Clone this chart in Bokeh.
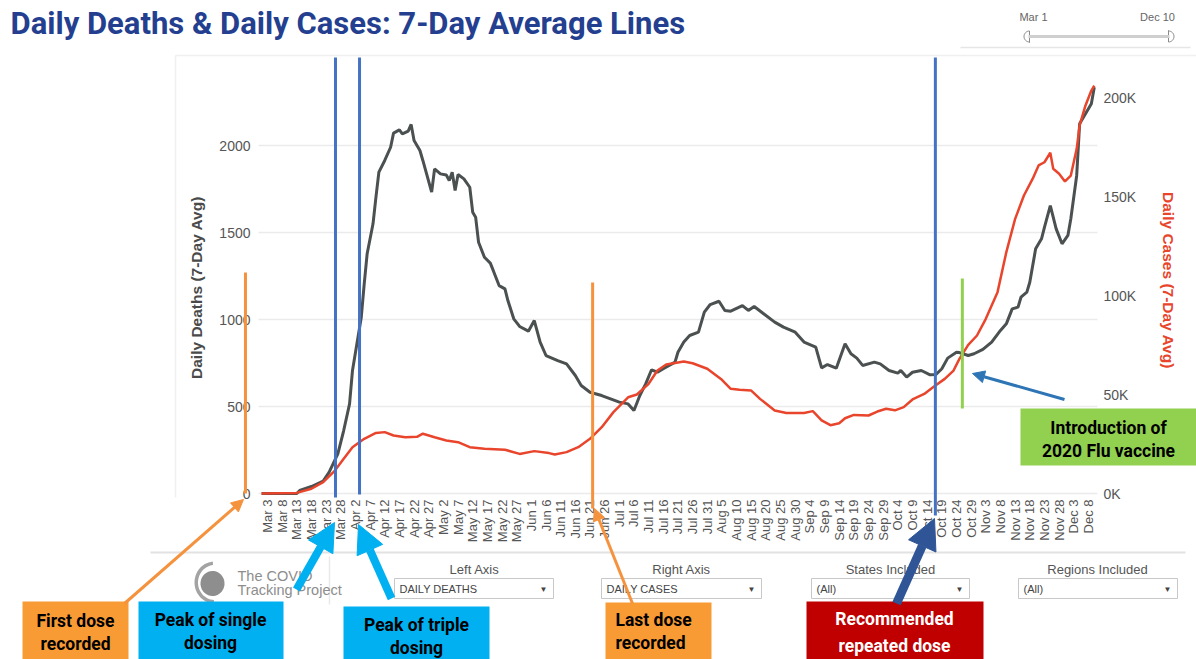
import numpy as np
from bokeh.plotting import figure
from bokeh.models import Range1d, Label, Arrow, NormalHead, BoxAnnotation
from bokeh.core.properties import value
from bokeh.embed import file_html
from bokeh.resources import INLINE

# ---------------- data (day 0 = Mar 1, 2020) ----------------
death_days = [0, 12, 13, 17, 21, 23, 26, 28, 30, 31, 34, 35, 36, 38, 39, 40, 42, 44, 45, 47, 48, 50,
              51, 52, 54, 55, 58, 59, 61, 63, 64, 65, 66, 67, 69, 71, 72, 73, 74, 76, 78, 79, 81, 83,
              84, 86, 88, 91, 93, 95, 97, 101, 104, 107, 109, 112, 116, 119, 122, 125, 127, 129, 131,
              133, 135, 137, 141, 142, 144, 146, 149, 151, 153, 156, 158, 160, 164, 166, 168, 171, 175,
              178, 182, 185, 189, 191, 193, 196, 199, 201, 203, 205, 209, 211, 214, 217, 218, 220, 222,
              225, 228, 230, 232, 234, 237, 238, 241, 243, 246, 249, 252, 254, 256, 258, 259, 261, 262,
              264, 266, 267, 269, 271, 273, 275, 276, 278, 279, 281, 283, 284]
deaths = [0, 0, 17, 40, 71, 122, 228, 362, 515, 707, 1013, 1205, 1378, 1550, 1703, 1847, 1914, 1990,
          2071, 2090, 2067, 2083, 2121, 2029, 1971, 1914, 1732, 1866, 1837, 1830, 1799, 1847, 1741,
          1833, 1808, 1760, 1617, 1588, 1444, 1358, 1324, 1282, 1195, 1176, 1109, 1004, 960, 933, 994,
          870, 793, 764, 745, 678, 621, 582, 563, 544, 525, 515, 477, 563, 630, 711, 697, 717, 755, 812,
          870, 908, 927, 1042, 1086, 1105, 1052, 1048, 1080, 1052, 1075, 1036, 985, 956, 927, 870, 841,
          722, 741, 720, 860, 803, 778, 736, 755, 745, 707, 692, 707, 669, 697, 707, 682, 684, 717, 778,
          812, 810, 793, 803, 828, 870, 937, 975, 1061, 1071, 1128, 1157, 1214, 1406, 1464, 1530, 1655,
          1521, 1435, 1483, 1579, 1828, 2125, 2182, 2240, 2335]

case_days = [0, 12, 17, 21, 25, 28, 31, 35, 39, 42, 45, 49, 53, 55, 59, 63, 67, 71, 76, 83, 88, 93, 98,
             100, 104, 108, 112, 116, 120, 125, 128, 132, 135, 138, 144, 147, 152, 157, 160, 163, 167,
             170, 175, 179, 185, 188, 191, 194, 197, 199, 202, 207, 210, 213, 216, 219, 222, 226, 229,
             233, 236, 238, 241, 244, 247, 251, 254, 257, 260, 263, 265, 267, 269, 270, 272, 274, 276,
             278, 279, 281, 283, 284]
cases_k = [0, 0.3, 2.4, 5.7, 11.6, 17.5, 23.4, 27.6, 30.6, 31.0, 29.3, 28.4, 28.6, 30.2, 28.4, 26.8,
           25.9, 23.4, 22.6, 22.1, 20.0, 21.4, 20.4, 19.7, 20.9, 23.4, 27.6, 33.5, 41.1, 48.6, 50.0,
           55.4, 62.1, 65.2, 66.7, 65.8, 63.0, 57.4, 52.9, 52.4, 52.0, 47.8, 41.9, 40.7, 40.7, 41.6,
           36.9, 34.5, 35.5, 38.0, 39.7, 39.4, 41.4, 42.8, 42.0, 43.6, 47.5, 50.3, 53.7, 57.9, 62.1,
           68.0, 75.1, 79.8, 88.2, 101.7, 121.9, 138.7, 150.5, 159.0, 165.7, 167.3, 172.1, 164.0,
           161.5, 157.6, 160.6, 174.1, 185.9, 196.0, 203.5, 206.0]

tick_days = list(range(2, 283, 5))
tick_labels = ["Mar 3", "Mar 8", "Mar 13", "Mar 18", "Mar 23", "Mar 28",
               "Apr 2", "Apr 7", "Apr 12", "Apr 17", "Apr 22", "Apr 27",
               "May 2", "May 7", "May 12", "May 17", "May 22", "May 27",
               "Jun 1", "Jun 6", "Jun 11", "Jun 16", "Jun 21", "Jun 26",
               "Jul 1", "Jul 6", "Jul 11", "Jul 16", "Jul 21", "Jul 26", "Jul 31",
               "Aug 5", "Aug 10", "Aug 15", "Aug 20", "Aug 25", "Aug 30",
               "Sep 4", "Sep 9", "Sep 14", "Sep 19", "Sep 24", "Sep 29",
               "Oct 4", "Oct 9", "Oct 14", "Oct 19", "Oct 24", "Oct 29",
               "Nov 3", "Nov 8", "Nov 13", "Nov 18", "Nov 23", "Nov 28",
               "Dec 3", "Dec 8"]
death_ticks = [0, 500, 1000, 1500, 2000]
case_ticks = [0, 50, 100, 150, 200]
case_tick_labels = ["0K", "50K", "100K", "150K", "200K"]

# event marker days (vertical annotation lines)
event_days = [-5.5, 25.2, 33.4, 112.9, 229.8, 239.0]

# ---------------- figure ----------------
W, H = 1196, 659
FONT = "Liberation Sans"
BOLDF = "Roboto"
# plot area: day -1.06..285.1 over x 258..1097, deaths 0 at y 493 (0.174 px/death),
# cases 0 at y 493 (1.98 px per thousand); the frame covers the full canvas
PX_DAY, X0 = 2.932, 261.1
p = figure(width=W, height=H, output_backend="svg", toolbar_location=None,
           x_axis_location=None, y_axis_location=None,
           x_range=Range1d(-X0 / PX_DAY, (W - X0) / PX_DAY),
           y_range=Range1d((493 - H) / 0.174, 493 / 0.174),
           min_border=0, outline_line_color=None,
           background_fill_color="white", border_fill_color="white")
p.xgrid.visible = False
p.ygrid.visible = False
p.extra_x_ranges = {"ix": Range1d(0, W)}
p.extra_y_ranges = {"iy": Range1d(H, 0), "cases": Range1d((493 - H) / 1.98, 493 / 1.98)}

LEFT_D, RIGHT_D = (258 - X0) / PX_DAY, (1097 - X0) / PX_DAY

# gridlines (left-axis ticks)
p.segment(x0=[LEFT_D] * len(death_ticks), x1=[RIGHT_D] * len(death_ticks),
          y0=death_ticks, y1=death_ticks, line_color="#ebebeb", line_width=1.6)

# x tick labels (vertical)
p.text(x=tick_days, y=[499] * len(tick_days), text=tick_labels, y_range_name="iy",
       angle=np.pi / 2, text_align="right", text_baseline="middle",
       text_font=value(FONT), text_font_size="13px", text_color="#555555")
# left tick labels
p.text(x=[250] * len(death_ticks), y=death_ticks, text=[str(t) for t in death_ticks],
       x_range_name="ix", text_align="right", text_baseline="middle",
       text_font=value(FONT), text_font_size="14px", text_color="#555555")
# right tick labels
p.text(x=[1103] * len(case_ticks), y=case_ticks, text=case_tick_labels,
       x_range_name="ix", y_range_name="cases", text_align="left", text_baseline="middle",
       text_font=value(FONT), text_font_size="14px", text_color="#555555")

# data lines
p.line(death_days, deaths, line_color="#4b5050", line_width=3)
p.line(case_days, cases_k, line_color="#e8452c", line_width=2.5, y_range_name="cases")

# ---------------- decoration helpers (image pixel coordinates) ----------------
def seg(x0, y0, x1, y1, color, w, head=None, xr="ix"):
    p.add_layout(Arrow(x_start=x0, y_start=y0, x_end=x1, y_end=y1, line_color=color,
                       line_width=w, end=head, start=None, x_range_name=xr, y_range_name="iy"))

def box(l, t, r, b, fill, line=None, lw=1):
    p.add_layout(BoxAnnotation(left=l, right=r, top=t, bottom=b, fill_color=fill, fill_alpha=1,
                               line_color=line, line_alpha=1, line_width=lw,
                               x_range_name="ix", y_range_name="iy"))

def txt(x, y, s, size, color, bold=False, align="left", font=FONT, angle=0):
    p.add_layout(Label(x=x, y=y, text=s, text_font=font, text_font_size=size,
                       text_color=color, text_font_style="bold" if bold else "normal",
                       text_align=align, text_baseline="middle", angle=angle,
                       x_range_name="ix", y_range_name="iy"))

# axis titles
txt(196, 287, "Daily Deaths (7-Day Avg)", "15.5px", "#4a4a4a", True, "center", angle=np.pi / 2)
txt(1168, 280, "Daily Cases (7-Day Avg)", "15.5px", "#e8452c", True, "center", angle=-np.pi / 2)

# pane borders
seg(175, 55, 1196, 55, "#f0f0f0", 1.5)
seg(175, 55, 175, 497, "#f0f0f0", 1.5)
seg(150, 552, 1185, 552, "#e2e2e2", 2)
seg(329, 556, 329, 604, "#e8e8e8", 1.5)

# title
txt(10, 23, "Daily Deaths & Daily Cases: 7-Day Average Lines", "31px", "#243f8f", True,
    font=BOLDF)

# date slider (top right)
txt(1033, 16, "Mar 1", "11px", "#666666", align="center")
txt(1157, 16, "Dec 10", "11px", "#666666", align="center")
seg(1028, 36, 1169, 36, "#cfcfcf", 3)
seg(960, 47, 1190, 47, "#e6e6e6", 1.5)
ang = np.linspace(np.pi / 2, 3 * np.pi / 2, 20)
p.patch(np.r_[1029, 1029 + 5.5 * np.cos(ang)], np.r_[42, 36 - 5.5 * np.sin(ang)],
        x_range_name="ix", y_range_name="iy", fill_color="white", line_color="#8a8a8a")
ang2 = np.linspace(-np.pi / 2, np.pi / 2, 20)
p.patch(np.r_[1168, 1168 + 5.5 * np.cos(ang2)], np.r_[30, 36 - 5.5 * np.sin(ang2)],
        x_range_name="ix", y_range_name="iy", fill_color="white", line_color="#8a8a8a")

# vertical event lines (x in day units)
ev_styles = [("#f5923e", 272, 493), ("#4472c4", 57, 497), ("#4472c4", 57, 494),
             ("#f5923e", 282, 508), ("#4472c4", 57, 515), ("#92d050", 278, 408)]
for d, (c, y0, y1) in zip(event_days, ev_styles):
    seg(d, y0, d, y1, c, 3, xr="default")

# logo
th = np.linspace(0, 2 * np.pi, 48)
p.patch(212 + 12 * np.cos(th), 583 - 12.5 * np.sin(th), x_range_name="ix", y_range_name="iy",
        fill_color="#8e8e8e", line_color=None)
ta = np.linspace(np.radians(95), np.radians(268), 30)
p.patch(np.r_[214 + 20 * np.cos(ta), 214 + 16.5 * np.cos(ta[::-1])],
        np.r_[582 - 21 * np.sin(ta), 582 - 17.5 * np.sin(ta[::-1])],
        x_range_name="ix", y_range_name="iy", fill_color="#a3a3a3", line_color=None)
txt(237, 575, "The COVID", "14.5px", "#8d8d8d")
txt(237, 589, "Tracking Project", "14.5px", "#8d8d8d")

# filter controls
for cx, lab, bl, br, val in [(474, "Left Axis", 394, 553, "DAILY DEATHS"),
                             (681, "Right Axis", 601, 761, "DAILY CASES"),
                             (890, "States Included", 811, 969, "(All)"),
                             (1097, "Regions Included", 1018, 1177, "(All)")]:
    txt(cx, 569, lab, "13px", "#555555", align="center")
    box(bl, 578, br, 598, "white", "#c8c8c8", 1)
    txt(bl + 5, 588.5, val, "11px", "#444444")
    txt(br - 10, 589, "\u25BC", "8px", "#444444", align="center")

# annotation boxes
ORANGE, CYAN, RED, GREEN = "#f89b35", "#00b0f0", "#c00000", "#92d050"
box(22, 601, 128, 662, ORANGE)
box(138, 601, 283, 662, CYAN)
box(343, 606, 489, 662, CYAN)
box(605, 602, 711, 662, ORANGE)
box(806, 601, 983, 662, RED)
box(1020, 408, 1198, 465, GREEN)

# arrows
seg(124, 603, 243, 499, "#f5923e", 3, NormalHead(size=12, fill_color="#f5923e", line_color="#f5923e"))
seg(296, 589, 334, 522, CYAN, 8, NormalHead(size=28, fill_color=CYAN, line_color=CYAN))
seg(391, 598, 358, 524, CYAN, 8, NormalHead(size=28, fill_color=CYAN, line_color=CYAN))
seg(632, 603, 594, 508, "#f5923e", 3, NormalHead(size=12, fill_color="#f5923e", line_color="#f5923e"))
seg(896, 603, 934, 518, "#2f5597", 9, NormalHead(size=30, fill_color="#2f5597", line_color="#2f5597"))
seg(1064, 399, 972, 373, "#2e75b6", 3, NormalHead(size=12, fill_color="#2e75b6", line_color="#2e75b6"))

# annotation texts
BF = "17.5px"
txt(75, 620, "First dose", BF, "black", True, "center", BOLDF)
txt(75, 643, "recorded", BF, "black", True, "center", BOLDF)
txt(210, 619, "Peak of single", BF, "black", True, "center", BOLDF)
txt(210, 642, "dosing", BF, "black", True, "center", BOLDF)
txt(416, 624, "Peak of triple", BF, "black", True, "center", BOLDF)
txt(416, 647, "dosing", BF, "black", True, "center", BOLDF)
txt(615, 619, "Last dose", BF, "black", True, "left", BOLDF)
txt(615, 642, "recorded", BF, "black", True, "left", BOLDF)
txt(894, 618, "Recommended", BF, "white", True, "center", BOLDF)
txt(894, 645, "repeated dose", BF, "white", True, "center", BOLDF)
txt(1108, 427, "Introduction of", BF, "black", True, "center", BOLDF)
txt(1108, 450, "2020 Flu vaccine", BF, "black", True, "center", BOLDF)

open("out.html", "w").write(file_html(p, INLINE))
